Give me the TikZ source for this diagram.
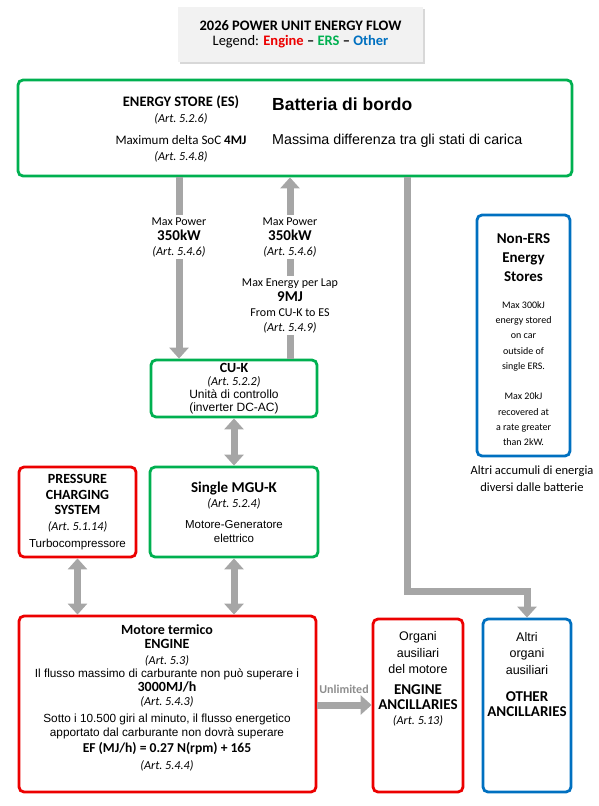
\documentclass[tikz,border=0pt]{standalone}
\usepackage{fontspec}
\setmainfont{Carlito}
\newfontfamily\robo{Liberation Sans}
\usetikzlibrary{arrows.meta,positioning,shadows}
\definecolor{ersgreen}{RGB}{0,176,80}
\definecolor{engred}{RGB}{236,0,0}
\definecolor{othblue}{RGB}{0,112,192}
\definecolor{flowgray}{RGB}{166,166,166}
\definecolor{panel}{RGB}{242,242,242}
\newcommand{\fs}[2]{\fontsize{#1}{#2}\selectfont}
\newcommand{\art}[1]{{\normalfont\itshape\fs{12.2}{14}(Art.~#1)}}

\tikzset{
  pubox/.style={draw,line width=2.8pt,rounded corners=5pt,inner sep=0pt},
  ersbox/.style={pubox,draw=ersgreen},
  engbox/.style={pubox,draw=engred},
  othbox/.style={pubox,draw=othblue},
  flow/.style={flowgray,line width=7pt,-{Triangle[width=19pt,length=11pt]}},
  flowboth/.style={flow,{Triangle[width=19pt,length=11pt]}-{Triangle[width=19pt,length=11pt]}},
  lbl/.style={align=center,inner sep=1pt,font=\fs{12}{15}},
  tag/.style={lbl,fill=white,inner ysep=2pt},
}

\begin{document}
\begin{tikzpicture}[x=1pt,y=-1pt]
\useasboundingbox (0,0) rectangle (598,806);

% title
\node[fill=panel,drop shadow={shadow xshift=2pt,shadow yshift=-2pt,fill=black!30},
  minimum width=245pt,minimum height=55pt,align=center,inner sep=0pt,font=\fs{14.5}{15.5}]
  (title) at (300.5,34.5)
  {\textbf{2026 POWER UNIT ENERGY FLOW}\\
   Legend: \textbf{\textcolor{engred}{Engine} -- \textcolor{ersgreen}{ERS} -- \textcolor{othblue}{Other}}};

% boxes
\node[ersbox,minimum width=554pt,minimum height=96pt] (es) at (295,128) {};
\node[ersbox,minimum width=166pt,minimum height=57pt,lbl,font=\fs{12}{13}] (cuk) at (234,388.5)
  {{\fs{14}{14}\bfseries CU-K}\\ \art{5.2.2}\\ {\robo\fs{12}{13}Unità di controllo}\\ {\robo\fs{12}{13}(inverter DC-AC)}};
\node[ersbox,minimum width=168pt,minimum height=90pt,lbl,font=\fs{12}{15.5}] (mguk) at (234,512)
  {{\fs{15}{15}\bfseries Single MGU-K}\\ \art{5.2.4}\\[5pt] {\robo\fs{11.5}{13}Motore-Generatore}\\[-1.5pt] {\robo\fs{11.5}{13}elettrico}};
\node[engbox,minimum width=117pt,minimum height=90pt,lbl,font=\fs{14}{15.7}] (pcs) at (77.5,512)
  {\textbf{PRESSURE}\\ \textbf{CHARGING}\\ \textbf{SYSTEM}\\ \art{5.1.14}\\[1pt] {\robo\fs{11.6}{13}Turbocompressore}};
\node[engbox,minimum width=297pt,minimum height=176pt] (eng) at (167.5,704) {};
\node[engbox,minimum width=90pt,minimum height=173pt] (eanc) at (418,705.5) {};
\node[othbox,minimum width=88pt,minimum height=173pt] (oth) at (527,705.5) {};
\node[othbox,minimum width=93pt,minimum height=241pt] (nes) at (523.5,335.5) {};

% texts
\node[lbl,font=\fs{13}{16}] (estxt) at (181,129)
  {{\fs{14.5}{16}\bfseries ENERGY STORE (ES)}\\ \art{5.2.6}\\[6pt] Maximum delta SoC \textbf{4MJ}\\ \art{5.4.8}};
\node[anchor=west,inner sep=0pt,font=\robo\fs{17.5}{20}\bfseries] (bat) at (272,104) {Batteria di bordo};
\node[anchor=west,inner sep=0pt,font=\robo\fs{14.3}{17}] (mas) at (272,141) {Massima differenza tra gli stati di carica};

\node[lbl,font=\fs{14}{14}] (engtxt) at (167,698)
  {\textbf{Motore termico}\\ \textbf{ENGINE}\\[2pt] \art{5.3}\\[-1pt]
   {\robo\fs{11.8}{13}Il flusso massimo di carburante non può superare i}\\
   \textbf{3000MJ/h}\\ \art{5.4.3}\\[3pt]
   {\robo\fs{11.8}{13}Sotto i 10.500 giri al minuto, il flusso energetico}\\
   {\robo\fs{11.8}{13}apportato dal carburante non dovrà superare}\\[2pt]
   {\fs{13.6}{14}\bfseries EF (MJ/h) = 0.27 N(rpm) + 165}\\[3pt] \art{5.4.4}};
\node[lbl,font=\fs{15}{16.5}] (eanctxt) at (418,679)
  {{\robo\fs{12.5}{15}Organi}\\ {\robo\fs{12.5}{15}ausiliari}\\ {\robo\fs{12.5}{15}del motore}\\[4pt]
   \textbf{ENGINE}\\[-1.5pt] \textbf{ANCILLARIES}\\[-1pt] \art{5.13}};
\node[lbl,font=\fs{15}{16.5}] (othtxt) at (527,674.5)
  {{\robo\fs{12.5}{15}Altri}\\ {\robo\fs{12.5}{15}organi}\\ {\robo\fs{12.5}{15}ausiliari}\\[11pt]
   \textbf{OTHER}\\[-1.5pt] \textbf{ANCILLARIES}};
\node[lbl,font=\fs{15}{19}\bfseries] (nestop) at (523.5,257.5) {Non-ERS\\ Energy\\ Stores};
\node[lbl,font=\fs{10}{15.25}] (nesbody) at (523.5,373.5)
  {Max 300kJ\\ energy stored\\ on car\\ outside of\\ single ERS.\\ \\ Max 20kJ\\ recovered at\\ a rate greater\\ than 2kW.};
\node[lbl,font=\fs{12.5}{17}] (nesnote) at (532,479) {Altri accumuli di energia\\ diversi dalle batterie};

% flows
\coordinate (bend) at (407,591);
\draw[flow] (es.south -| 179,0) -- (cuk.north -| 179,0);
\draw[flow] (cuk.north -| 290,0) -- (es.south -| 290,0);
\draw[flowboth] (cuk) -- (mguk);
\draw[flowboth] (pcs) -- (pcs |- eng.north);
\draw[flowboth] (mguk) -- (mguk |- eng.north);
\draw[flow] (eng.east |- 0,705) -- (eanc.west |- 0,705);
\draw[flow] (es.south -| bend) -- (bend) -| (oth.north);
\node[font=\fs{12}{12}\bfseries,text=flowgray!85!black] (unl) at (344,689) {Unlimited};

% flow labels
\node[tag] (pdown) at (179,237) {Max Power\\ {\fs{15}{15}\bfseries 350kW}\\ \art{5.4.6}};
\node[tag] (pup) at (290,237) {Max Power\\ {\fs{15}{15}\bfseries 350kW}\\ \art{5.4.6}};
\node[tag] (eup) at (290,305.5) {Max Energy per Lap\\ {\fs{15}{15}\bfseries 9MJ}\\ From CU-K to ES\\ \art{5.4.9}};
\end{tikzpicture}
\end{document}
